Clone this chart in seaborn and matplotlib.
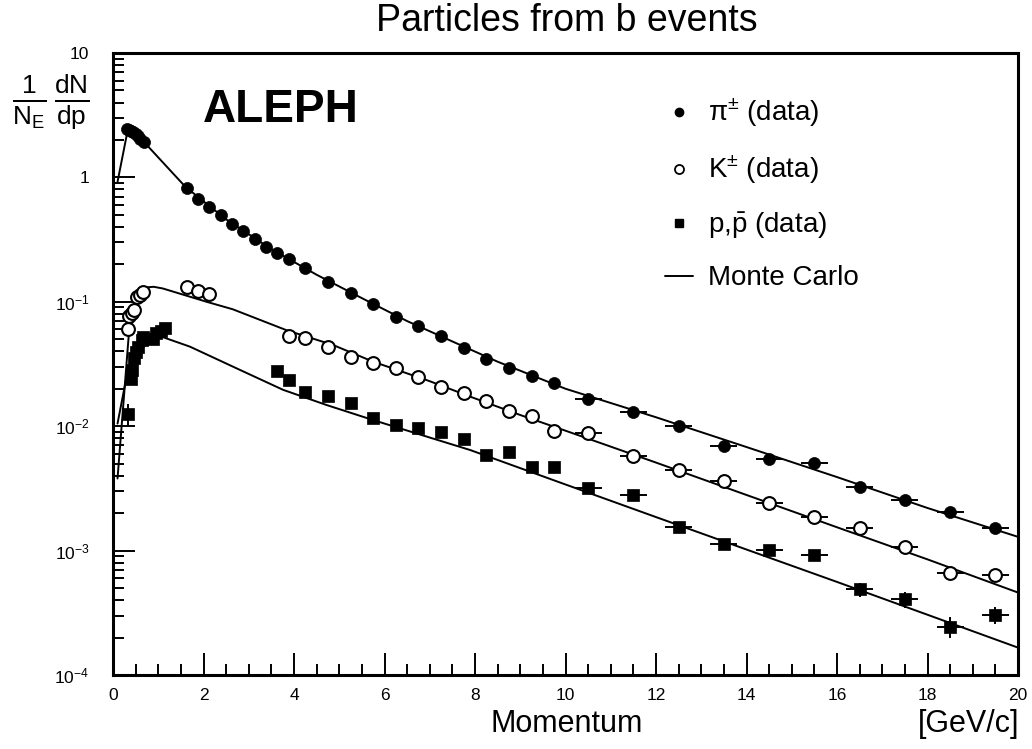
import numpy as np
import pandas as pd
import seaborn as sns
import matplotlib
matplotlib.use("Agg")
import matplotlib.pyplot as plt
from matplotlib.lines import Line2D
from matplotlib.ticker import FixedLocator, LogLocator, NullFormatter, MultipleLocator

pion_p = [0.30, 0.35, 0.40, 0.45, 0.50, 0.55, 0.60, 0.68,
          1.63, 1.88, 2.13, 2.38, 2.63, 2.88, 3.13, 3.38, 3.63, 3.88,
          4.25, 4.75, 5.25, 5.75, 6.25, 6.75, 7.25, 7.75, 8.25, 8.75, 9.25, 9.75,
          10.5, 11.5, 12.5, 13.5, 14.5, 15.5, 16.5, 17.5, 18.5, 19.5]
pion_val = [2.45, 2.42, 2.38, 2.32, 2.24, 2.14, 2.04, 1.91,
            0.826, 0.667, 0.575, 0.496, 0.420, 0.371, 0.318, 0.277, 0.248, 0.221,
            0.188, 0.143, 0.118, 0.0955, 0.0755, 0.0635, 0.0528, 0.0423, 0.0347, 0.0295, 0.0255, 0.0224,
            0.0164, 0.0131, 0.0100, 0.0069, 0.00545, 0.00503, 0.00323, 0.00255, 0.00205, 0.00151]

kaon_p = [0.34, 0.36, 0.41, 0.46, 0.52, 0.60, 0.67,
          1.63, 1.88, 2.13,
          3.88, 4.25, 4.75, 5.25, 5.75, 6.25, 6.75, 7.25, 7.75, 8.25, 8.75, 9.25, 9.75,
          10.5, 11.5, 12.5, 13.5, 14.5, 15.5, 16.5, 17.5, 18.5, 19.5]
kaon_val = [0.060, 0.077, 0.081, 0.086, 0.109, 0.114, 0.120,
            0.132, 0.123, 0.1155,
            0.0534, 0.0515, 0.0436, 0.0358, 0.0324, 0.0295, 0.0250, 0.0208, 0.0184, 0.0160, 0.01325, 0.0121, 0.0092,
            0.00877, 0.00576, 0.00445, 0.00365, 0.0024, 0.00185, 0.00151, 0.00106, 0.000664, 0.000637]

proton_p = [0.34, 0.39, 0.43, 0.46, 0.51, 0.56, 0.63, 0.67, 0.89, 0.96, 1.05, 1.15,
            3.63, 3.88, 4.25, 4.75, 5.25, 5.75, 6.25, 6.75, 7.25, 7.75, 8.25, 8.75, 9.25, 9.75,
            10.5, 11.5, 12.5, 13.5, 14.5, 15.5, 16.5, 17.5, 18.5, 19.5]
proton_val = [0.0125, 0.0241, 0.0283, 0.0355, 0.0397, 0.0436, 0.0493, 0.0518, 0.0500, 0.0560, 0.0585, 0.0620,
              0.0279, 0.0235, 0.0187, 0.0175, 0.0153, 0.0116, 0.0102, 0.0097, 0.0090, 0.0079, 0.0059, 0.0062, 0.0047, 0.0047,
              0.00317, 0.0028, 0.00155, 0.00113, 0.00102, 0.00092, 0.00049, 0.000406, 0.000245, 0.000304]
# relative vertical errors on protons (only visible ones)
proton_rel_err = [0.2] + [0.0] * 25 + [0.04, 0.05, 0.06, 0.07, 0.07, 0.08, 0.13, 0.15, 0.19, 0.15]

# Monte Carlo curves
pion_mc_p = [0.1, 0.33, 0.7, 1.6, 2.5, 3.5, 4.5, 5.5, 6.5, 7.5, 8.5, 10, 12, 14, 16, 18, 20]
pion_mc_val = [0.92, 2.45, 1.9, 0.84, 0.46, 0.265, 0.165, 0.107, 0.07, 0.048, 0.033, 0.020,
               0.0118, 0.0068, 0.0039, 0.0022, 0.00129]
kaon_mc_p = [0.1, 0.35, 0.65, 0.9, 1.1, 2.07, 2.65, 3.84, 4.86, 5.75, 7.0, 7.89, 9.0, 10, 12, 14, 16, 18, 20]
kaon_mc_val = [0.0038, 0.055, 0.13, 0.132, 0.128, 0.10, 0.087, 0.059, 0.045, 0.033, 0.023, 0.0173,
               0.0123, 0.0092, 0.0051, 0.0028, 0.00154, 0.00085, 0.00046]
proton_mc_p = [0.1, 0.3, 0.5, 0.8, 1.1, 1.7, 2.81, 3.76, 4.72, 5.75, 7.89, 10, 12, 14, 16, 18, 20]
proton_mc_val = [0.0105, 0.025, 0.038, 0.048, 0.052, 0.0436, 0.0283, 0.0196, 0.0148, 0.0112, 0.00644,
                 0.0034, 0.00186, 0.00102, 0.00056, 0.000305, 0.000166]

x_ticks = list(range(0, 21, 2))
y_ticks = [1e-4, 1e-3, 1e-2, 1e-1, 1, 10]
y_tick_labels = [r"$\mathregular{10^{-4}}$", r"$\mathregular{10^{-3}}$", r"$\mathregular{10^{-2}}$",
                 r"$\mathregular{10^{-1}}$", "1", "10"]

xerr_from = 10.0
xerr_half = 0.3

sns.set_style("ticks")
plt.rcParams['font.family'] = ['Liberation Sans', 'DejaVu Sans']
plt.rcParams['mathtext.fontset'] = 'custom'
plt.rcParams['mathtext.rm'] = 'Liberation Sans'
plt.rcParams['mathtext.it'] = 'Liberation Sans:italic'
plt.rcParams['mathtext.bf'] = 'Liberation Sans:bold'
plt.rcParams['text.color'] = 'black'
plt.rcParams['xtick.color'] = 'black'
plt.rcParams['ytick.color'] = 'black'
plt.rcParams['axes.labelcolor'] = 'black'

fig = plt.figure(figsize=(10.32, 7.49), dpi=100)
ax = fig.add_axes([113 / 1032, 74 / 749, 905 / 1032, 622 / 749])

mc = pd.concat([
    pd.DataFrame({"p": pion_mc_p, "val": pion_mc_val, "species": "pi"}),
    pd.DataFrame({"p": kaon_mc_p, "val": kaon_mc_val, "species": "K"}),
    pd.DataFrame({"p": proton_mc_p, "val": proton_mc_val, "species": "p"}),
])
sns.lineplot(data=mc, x="p", y="val", units="species", estimator=None, color="black",
             linewidth=1.4, sort=False, ax=ax, legend=False)

series = [
    (pion_p, pion_val, dict(marker="o", s=75, color="black", edgecolor="black", linewidth=0.5)),
    (kaon_p, kaon_val, dict(marker="o", s=85, facecolor="white", edgecolor="black", linewidth=1.5)),
    (proton_p, proton_val, dict(marker="s", s=75, color="black", edgecolor="black", linewidth=0.5)),
]
for xs, ys, kw in series:
    xs = np.array(xs)
    ys = np.array(ys)
    xe = np.where(xs > xerr_from, xerr_half, 0.0)
    ax.errorbar(xs, ys, xerr=xe, fmt="none", ecolor="black", elinewidth=1.4, capsize=0, zorder=2)
    df = pd.DataFrame({"p": xs, "val": ys})
    sns.scatterplot(data=df, x="p", y="val", ax=ax, zorder=3, legend=False, **kw)

pe = np.array(proton_val) * np.array(proton_rel_err)
ax.errorbar(proton_p, proton_val, yerr=pe, fmt="none", ecolor="black", elinewidth=1.4, capsize=0, zorder=2)

ax.set_yscale("log")
ax.set_xlim(0, 20)
ax.set_ylim(1e-4, 10)
ax.set_xlabel("")
ax.set_ylabel("")

ax.xaxis.set_major_locator(FixedLocator(x_ticks))
ax.xaxis.set_minor_locator(MultipleLocator(0.5))
ax.set_xticklabels([str(v) for v in x_ticks])
ax.yaxis.set_major_locator(FixedLocator(y_ticks))
ax.yaxis.set_minor_locator(LogLocator(base=10, subs=np.arange(2, 10)))
ax.yaxis.set_minor_formatter(NullFormatter())
ax.set_yticklabels(y_tick_labels)

ax.tick_params(axis="both", which="both", direction="in", top=False, right=False, width=1.4, color="black")
ax.tick_params(axis="both", which="major", length=16, labelsize=12.5)
ax.tick_params(axis="both", which="minor", length=8)
ax.tick_params(axis="y", which="major", pad=17)
ax.tick_params(axis="x", which="major", pad=9)
for sp in ax.spines.values():
    sp.set_linewidth(2.2)
    sp.set_color("black")

handles = [
    Line2D([], [], linestyle="none", marker="o", markersize=6, color="black"),
    Line2D([], [], linestyle="none", marker="o", markersize=6.5, markerfacecolor="white",
           markeredgecolor="black", markeredgewidth=1.3),
    Line2D([], [], linestyle="none", marker="s", markersize=6, color="black"),
    Line2D([], [], color="black", linewidth=1.4),
]
labels = [r"π$^{\pm}$ (data)", r"K$^{\pm}$ (data)", r"p,$\bar{\mathrm{p}}$ (data)", "Monte Carlo"]
ax.legend(handles, labels, loc="upper left", bbox_to_anchor=(665 / 1032, 1 - 97 / 749),
          bbox_transform=fig.transFigure, frameon=False, fontsize=20, handlelength=1.0,
          handletextpad=0.55, borderpad=0, borderaxespad=0, labelspacing=0.88)

fig.text(567 / 1032, 1 - 21 / 749, "Particles from b events", fontsize=27, ha="center", va="center")
fig.text(281 / 1032, 1 - 110 / 749, "ALEPH", fontsize=33, fontweight="bold", ha="center", va="center")
fig.text(51 / 1032, 1 - 102 / 749, r"$\frac{\mathrm{1}}{\mathrm{N_E}}\,\frac{\mathrm{dN}}{\mathrm{dp}}$",
         fontsize=27, ha="center", va="center")
fig.text(567 / 1032, 1 - 724 / 749, "Momentum", fontsize=22, ha="center", va="center")
fig.text(1019 / 1032, 1 - 724 / 749, "[GeV/c]", fontsize=22, ha="right", va="center")

fig.savefig("out.png", dpi=100, facecolor="white")
